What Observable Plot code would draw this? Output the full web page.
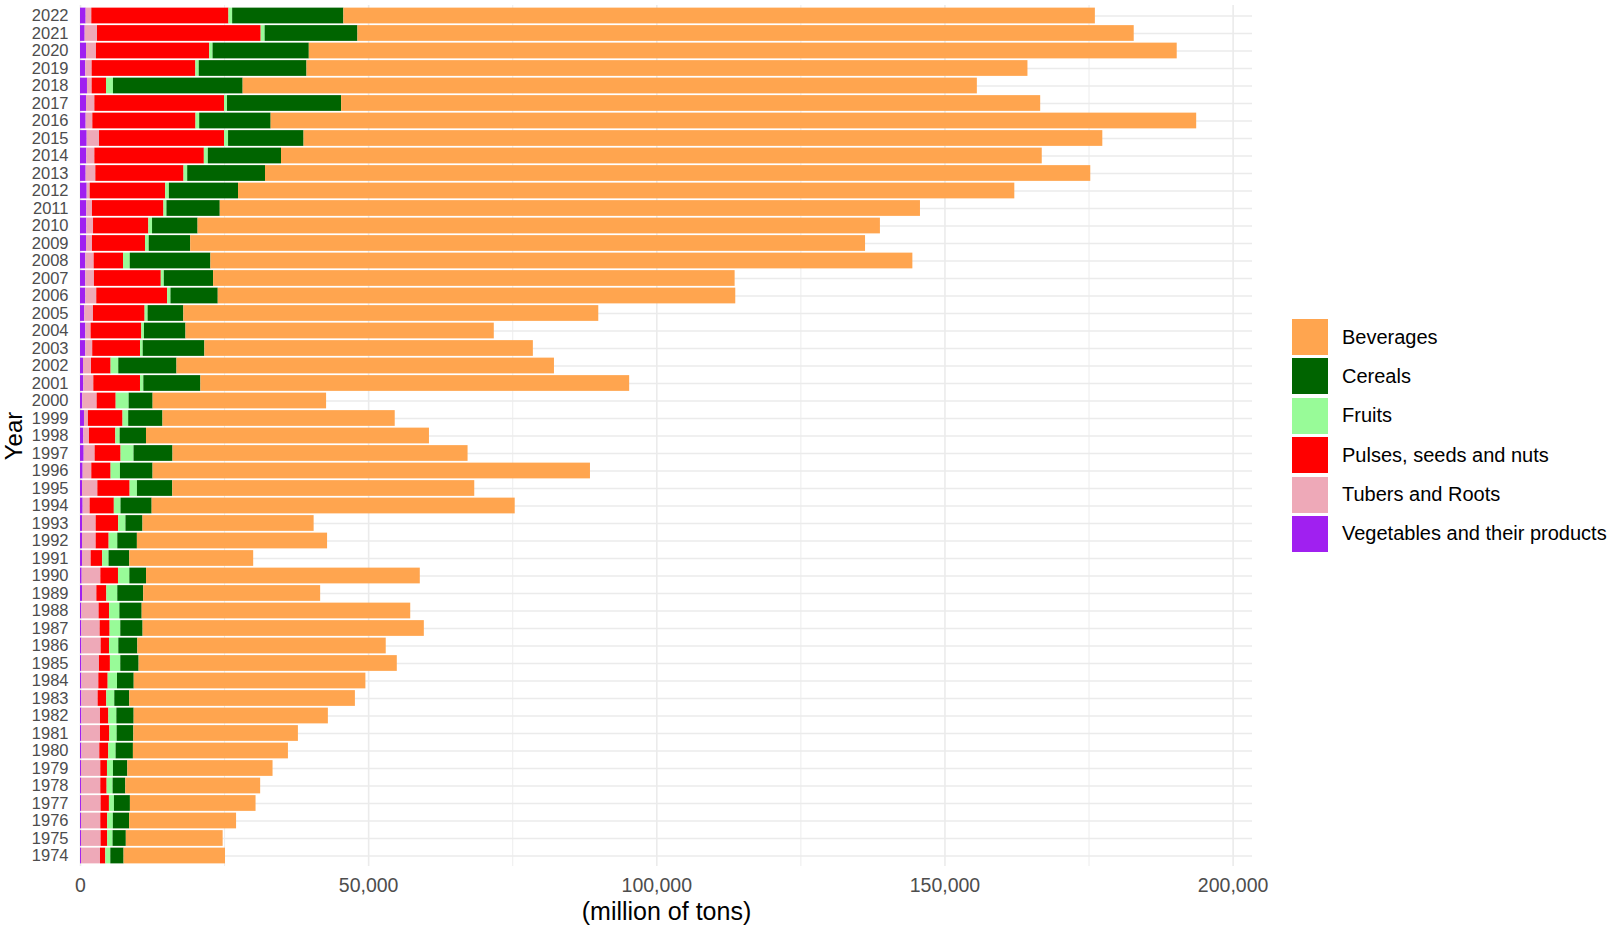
<!DOCTYPE html>
<html>
<head>
<meta charset="utf-8">
<script src="https://cdn.jsdelivr.net/npm/d3@7"></script>
<script src="https://cdn.jsdelivr.net/npm/@observablehq/plot@0.6"></script>
<style>
  html, body { margin: 0; padding: 0; background: #fff; }
  #wrap { position: relative; width: 1611px; height: 929px; font-family: "Liberation Sans", Arial, sans-serif; }
  #legend { position: absolute; left: 1292px; top: 319px; }
  .item { display: flex; align-items: center; height: 36px; margin-bottom: 3.4px; }
  .sw { width: 36px; height: 36px; margin-right: 14px; }
  .lab { font-size: 20px; color: #000; white-space: nowrap; }
</style>
</head>
<body>
<div id="wrap"><div id="legend"></div></div>
<script>
// Years, top to bottom
const years = [2022,2021,2020,2019,2018,2017,2016,2015,2014,2013,2012,2011,2010,2009,2008,2007,2006,2005,2004,2003,2002,2001,2000,1999,1998,1997,1996,1995,1994,1993,1992,1991,1990,1989,1988,1987,1986,1985,1984,1983,1982,1981,1980,1979,1978,1977,1976,1975,1974];

// Categories in stacking order (from the axis outward) and their colours
const categories = ["Vegetables and their products","Tubers and Roots","Pulses, seeds and nuts","Fruits","Cereals","Beverages"];
const colors = ["#A020F0","#EEA9B8","#FF0000","#98FB98","#006400","#FFA54F"];
const legendOrder = ["Beverages","Cereals","Fruits","Pulses, seeds and nuts","Tubers and Roots","Vegetables and their products"];

// Values (million of tons), one per year in the order of `years`
const vegetables = [980,810,1040,920,1210,1040,980,1160,1100,980,1160,1100,1100,1040,920,920,920,750,920,920,520,580,400,690,580,640,460,350,460,350,350,350,290,350,230,230,230,230,230,230,230,230,230,170,170,170,170,170,170];
const tubers = [980,2140,1730,1100,810,1450,1160,2140,1390,1680,520,980,1160,1040,1450,1500,1900,1500,920,1200,1390,1730,2490,690,980,1900,1500,2660,1210,2370,2370,1500,3240,2490,3000,3180,3350,3060,2950,2830,3240,3240,3120,3350,3350,3400,3350,3400,3300];
const pulses = [23800,28400,19650,18000,2490,22500,17900,21700,19000,15300,13100,12400,9600,9200,5100,11600,12300,8960,8800,8300,3400,8100,3300,6000,4570,4500,3350,5600,4200,3900,2250,2000,3060,1730,1800,1730,1450,1900,1620,1500,1450,1620,1560,1160,1100,1450,1200,1160,920];
const fruits = [640,690,580,580,1210,520,640,690,690,640,640,520,640,640,1160,520,580,520,460,460,1330,580,2250,980,750,2250,1620,1270,1160,1270,1500,1100,1970,1900,1800,1850,1620,1800,1620,1390,1390,1270,1270,1040,1040,870,980,920,870];
const cereals = [19300,16100,16700,18700,22500,19800,12400,13100,12700,13500,12000,9250,7900,7200,14000,8550,8200,6200,7200,10700,10100,9900,4160,5950,4570,6760,5660,6130,5400,2950,3400,3600,2900,4500,3870,3870,3300,3180,2900,2600,3000,2900,3000,2490,2200,2770,2830,2300,2300];
const beverages = [130400,134700,150600,125100,127400,121300,160600,138600,132000,143200,134700,121500,118400,117100,121800,90500,89800,72000,53500,57000,65500,74400,30100,40300,49100,51200,75900,52400,63000,29700,33000,21500,47500,30700,46600,48800,43100,44800,40200,39150,33700,28550,26900,25200,23400,21800,18550,16800,17600];

const xTicks = [0, 50000, 100000, 150000, 200000];
const xMinor = [25000, 75000, 125000, 175000];
const xTitle = "(million of tons)";
const yTitle = "Year";

const series = [vegetables, tubers, pulses, fruits, cereals, beverages];
const table = [];
years.forEach((y, i) => {
  categories.forEach((c, j) => table.push({year: String(y), cat: c, value: series[j][i]}));
});
const maxTotal = d3.max(years, (y, i) => d3.sum(series, s => s[i]));

const chart = Plot.plot({
  width: 1611,
  height: 929,
  marginLeft: 80,
  marginRight: 359,
  marginTop: 5,
  marginBottom: 63,
  style: {fontFamily: "'Liberation Sans', Arial, sans-serif", background: "transparent", overflow: "visible"},
  x: {domain: [0, maxTotal * 1.05], label: null},
  y: {domain: years.map(String), paddingInner: 0.1, paddingOuter: 0.15, round: false, label: null},
  color: {domain: categories, range: colors},
  marks: [
    Plot.gridX(xMinor, {stroke: "#ebebeb", strokeOpacity: 1, strokeWidth: 0.9}),
    Plot.gridX(xTicks, {stroke: "#ebebeb", strokeOpacity: 1, strokeWidth: 1.6}),
    Plot.gridY({stroke: "#ebebeb", strokeOpacity: 1, strokeWidth: 1.6}),
    Plot.barX(table, Plot.stackX({x: "value", y: "year", fill: "cat", order: categories})),
    Plot.axisX(xTicks, {tickSize: 0, tickPadding: 12, tickFormat: d3.format(","), fontSize: 19.5, fill: "#4d4d4d", label: null}),
    Plot.axisY({tickSize: 0, tickPadding: 12, fontSize: 16.5, fill: "#4d4d4d", label: null}),
    Plot.text([xTitle], {frameAnchor: "bottom", lineAnchor: "middle", textAnchor: "middle", dy: 45, fontSize: 25, fill: "#000"}),
    Plot.text([yTitle], {frameAnchor: "left", lineAnchor: "middle", textAnchor: "middle", dx: -66, rotate: -90, fontSize: 24, fill: "#000"})
  ]
});
document.getElementById("wrap").prepend(chart);

const legend = document.getElementById("legend");
legendOrder.forEach(name => {
  const item = document.createElement("div");
  item.className = "item";
  const sw = document.createElement("div");
  sw.className = "sw";
  sw.style.background = colors[categories.indexOf(name)];
  const lab = document.createElement("div");
  lab.className = "lab";
  lab.textContent = name;
  item.append(sw, lab);
  legend.append(item);
});
</script>
</body>
</html>
